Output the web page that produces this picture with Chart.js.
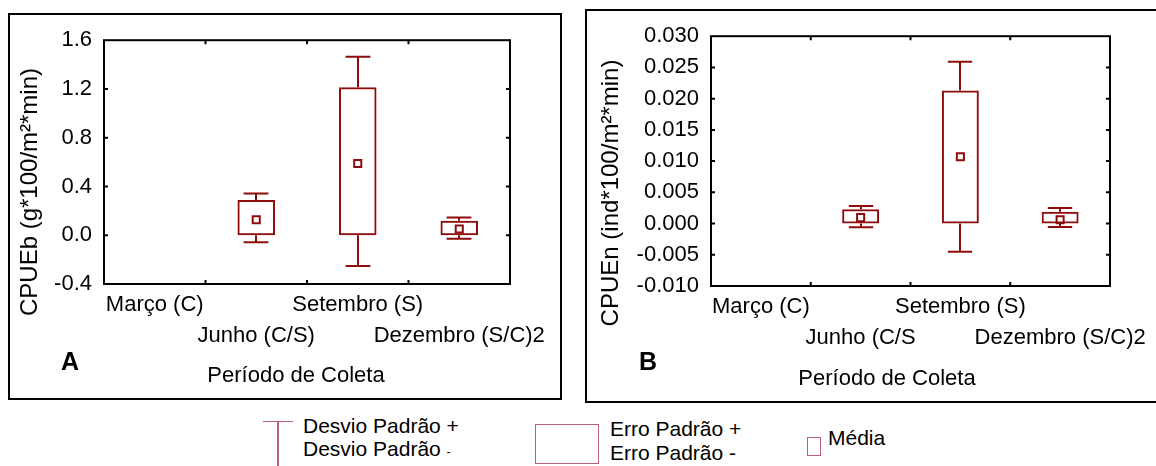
<!DOCTYPE html>
<html>
<head>
<meta charset="utf-8">
<script src="https://cdn.jsdelivr.net/npm/chart.js@4.4.0/dist/chart.umd.min.js"></script>
<style>
html, body { margin: 0; padding: 0; background: #fff; }
body { width: 1156px; height: 466px; overflow: hidden; position: relative;
       font-family: "Liberation Sans", Arial, sans-serif; color: #000; }
.painel { position: absolute; box-sizing: border-box; border: 2px solid #000; overflow: hidden; }
#painel-a { left: 8px; top: 13px; width: 554px; height: 387px; }
#painel-b { left: 585px; top: 9px; width: 575px; height: 394px; }
.painel canvas { position: absolute; left: 0; top: 0; }
.leg { position: absolute; box-sizing: border-box; }
.leg-txt { position: absolute; font-size: 21px; white-space: nowrap; }
.menos { font-size: 13px; }
</style>
</head>
<body>

<div class="painel" id="painel-a"><canvas id="grafico-a" width="550" height="383"></canvas></div>
<div class="painel" id="painel-b"><canvas id="grafico-b" width="571" height="390"></canvas></div>

<!-- legenda -->
<div class="leg" style="left:277px; top:421px; width:1.5px; height:45px; background:#b85c86;"></div>
<div class="leg" style="left:263px; top:420.5px; width:30px; height:1.5px; background:#b85c86;"></div>
<div class="leg-txt" style="left:303px; top:414px; line-height:23px;">Desvio Padrão +<br>Desvio Padrão <span class="menos">-</span></div>

<div class="leg" style="left:535px; top:424px; width:64px; height:40px; border:1.5px solid #b85c86;"></div>
<div class="leg-txt" style="left:610px; top:417px; line-height:24px;">Erro Padrão +<br>Erro Padrão -</div>

<div class="leg" style="left:807px; top:437px; width:14px; height:19px; border:1.5px solid #b85c86;"></div>
<div class="leg-txt" style="left:828px; top:426px; line-height:24px;">Média</div>

<script>
var periodosA = ['Março (C)', 'Junho (C/S)', 'Setembro (S)', 'Dezembro (S/C)2'];
var periodosB = ['Março (C)', 'Junho (C/S', 'Setembro (S)', 'Dezembro (S/C)2'];

// CPUEb (biomassa)
var mediaA      = [null, 0.127, 0.588, 0.051];
var erroInfA    = [null, 0.0,   0.0,   0.0];
var erroSupA    = [null, 0.290, 1.215, 0.119];
var desvioInfA  = [null, -0.057, -0.252, -0.028];
var desvioSupA  = [null, 0.342, 1.465, 0.146];
var ticksA      = [-0.4, 0.0, 0.4, 0.8, 1.2, 1.6];

// CPUEn (numero)
var mediaB      = [null, 0.00095, 0.0107, 0.0006];
var erroInfB    = [null, 0.0,     0.0,    0.0];
var erroSupB    = [null, 0.0023,  0.0213, 0.0019];
var desvioInfB  = [null, -0.0006, -0.0045, -0.00057];
var desvioSupB  = [null, 0.0028,  0.0259, 0.0025];
var ticksB      = [-0.010, -0.005, 0.000, 0.005, 0.010, 0.015, 0.020, 0.025, 0.030];

var COR = '#8e0c0c';
var FONTE = '"Liberation Sans", Arial, sans-serif';

var pluginMoldura = {
    id: 'moldura',
    afterDatasetsDraw: function (chart, args, opts) {
        var ctx = chart.ctx;
        var a = chart.chartArea;
        var xs = chart.scales.x, ys = chart.scales.y;
        var barras = chart.getDatasetMeta(0).data;
        var i;

        ctx.save();

        // barras de desvio padrao
        ctx.strokeStyle = COR;
        ctx.lineWidth = 2;
        for (i = 0; i < opts.desvioSup.length; i++) {
            if (opts.desvioSup[i] == null) continue;
            var px = Math.round(xs.getPixelForValue(i));
            var meia = barras[i].width * 0.33;
            var ySup = ys.getPixelForValue(opts.desvioSup[i]);
            var yInf = ys.getPixelForValue(opts.desvioInf[i]);
            var yEs = ys.getPixelForValue(opts.erroSup[i]);
            var yEi = ys.getPixelForValue(opts.erroInf[i]);
            ctx.beginPath();
            ctx.moveTo(px, yEs);  ctx.lineTo(px, ySup);
            ctx.moveTo(px - meia, ySup); ctx.lineTo(px + meia, ySup);
            ctx.moveTo(px, yEi);  ctx.lineTo(px, yInf);
            ctx.moveTo(px - meia, yInf); ctx.lineTo(px + meia, yInf);
            ctx.stroke();
        }

        // moldura do grafico
        ctx.strokeStyle = '#000';
        ctx.lineWidth = 2;
        ctx.strokeRect(a.left, a.top, a.right - a.left, a.bottom - a.top);

        // marcas internas
        ctx.beginPath();
        for (i = 1; i < ys.ticks.length - 1; i++) {
            var ty = ys.getPixelForValue(ys.ticks[i].value);
            ctx.moveTo(a.left, ty);  ctx.lineTo(a.left + 4, ty);
            ctx.moveTo(a.right - 4, ty); ctx.lineTo(a.right, ty);
        }
        for (i = 1; i < xs.ticks.length; i++) {
            var tx = (xs.getPixelForValue(i - 1) + xs.getPixelForValue(i)) / 2;
            ctx.moveTo(tx, a.top);  ctx.lineTo(tx, a.top + 4);
            ctx.moveTo(tx, a.bottom - 4); ctx.lineTo(tx, a.bottom);
        }
        ctx.stroke();

        // textos
        ctx.fillStyle = '#000';
        ctx.textAlign = 'center';
        ctx.textBaseline = 'middle';

        ctx.save();
        ctx.font = '24px ' + FONTE;
        ctx.translate(opts.tituloY[0], opts.tituloY[1]);
        ctx.rotate(-Math.PI / 2);
        ctx.fillText(opts.tituloY[2], 0, 0);
        ctx.restore();

        ctx.font = '22px ' + FONTE;
        ctx.fillText('Período de Coleta', opts.tituloX[0], opts.tituloX[1]);

        ctx.font = 'bold 25px ' + FONTE;
        ctx.fillText(opts.letra[2], opts.letra[0], opts.letra[1]);

        ctx.restore();
    }
};

function criarGrafico(id, cfg) {
    var caixas = [];
    for (var i = 0; i < cfg.media.length; i++) {
        caixas.push(cfg.erroInf[i] == null ? null : [cfg.erroInf[i], cfg.erroSup[i]]);
    }

    new Chart(document.getElementById(id), {
        type: 'bar',
        plugins: [pluginMoldura],
        data: {
            labels: cfg.periodos,
            datasets: [{
                label: 'Erro Padrão',
                data: caixas,
                backgroundColor: 'rgba(0,0,0,0)',
                borderColor: COR,
                borderWidth: 2,
                borderSkipped: false,
                barPercentage: 0.37,
                categoryPercentage: 1
            }, {
                type: 'line',
                label: 'Média',
                data: cfg.media,
                showLine: false,
                pointStyle: 'rect',
                pointRadius: 5,
                pointBorderWidth: 2,
                pointBorderColor: COR,
                pointBackgroundColor: '#fff'
            }]
        },
        options: {
            responsive: false,
            animation: false,
            events: [],
            layout: { padding: { top: cfg.padTopo, right: cfg.padDir, left: 0, bottom: 0 } },
            plugins: {
                legend: { display: false },
                tooltip: { enabled: false },
                moldura: {
                    desvioSup: cfg.desvioSup, desvioInf: cfg.desvioInf,
                    erroSup: cfg.erroSup, erroInf: cfg.erroInf,
                    tituloY: cfg.tituloY, tituloX: cfg.tituloX, letra: cfg.letra
                }
            },
            scales: {
                x: {
                    grid: { display: false, drawTicks: false },
                    border: { display: false },
                    afterFit: function (s) { s.height = cfg.altX; },
                    ticks: {
                        autoSkip: false,
                        maxRotation: 0,
                        minRotation: 0,
                        padding: 5,
                        color: '#000',
                        font: { family: FONTE, size: 22, lineHeight: 1.41 },
                        callback: function (v, i) {
                            var t = this.getLabelForValue(v);
                            return i % 2 == 0 ? [t, ''] : ['', t];
                        }
                    }
                },
                y: {
                    min: cfg.ticks[0],
                    max: cfg.ticks[cfg.ticks.length - 1],
                    grid: { display: false, drawTicks: false },
                    border: { display: false },
                    afterFit: function (s) { s.width = cfg.largY; },
                    afterBuildTicks: function (s) {
                        s.ticks = cfg.ticks.map(function (v) { return { value: v }; });
                    },
                    ticks: {
                        autoSkip: false,
                        padding: 12,
                        color: '#000',
                        font: { family: FONTE, size: 22 },
                        callback: function (v) {
                            if (Math.abs(v) < 1e-9) v = 0;
                            return v.toFixed(cfg.casas);
                        }
                    }
                }
            }
        }
    });
}

criarGrafico('grafico-a', {
    periodos: periodosA, media: mediaA, erroInf: erroInfA, erroSup: erroSupA,
    desvioInf: desvioInfA, desvioSup: desvioSupA, ticks: ticksA, casas: 1,
    padTopo: 23, padDir: 50, largY: 94, altX: 114,
    tituloY: [20, 177, 'CPUEb (g*100/m²*min)'],
    tituloX: [286, 361],
    letra: [60, 348, 'A']
});

criarGrafico('grafico-b', {
    periodos: periodosB, media: mediaB, erroInf: erroInfB, erroSup: erroSupB,
    desvioInf: desvioInfB, desvioSup: desvioSupB, ticks: ticksB, casas: 3,
    padTopo: 22, padDir: 48, largY: 124, altX: 115,
    tituloY: [24, 182, 'CPUEn (ind*100/m²*min)'],
    tituloX: [300, 368],
    letra: [61, 352, 'B']
});
</script>
</body>
</html>
